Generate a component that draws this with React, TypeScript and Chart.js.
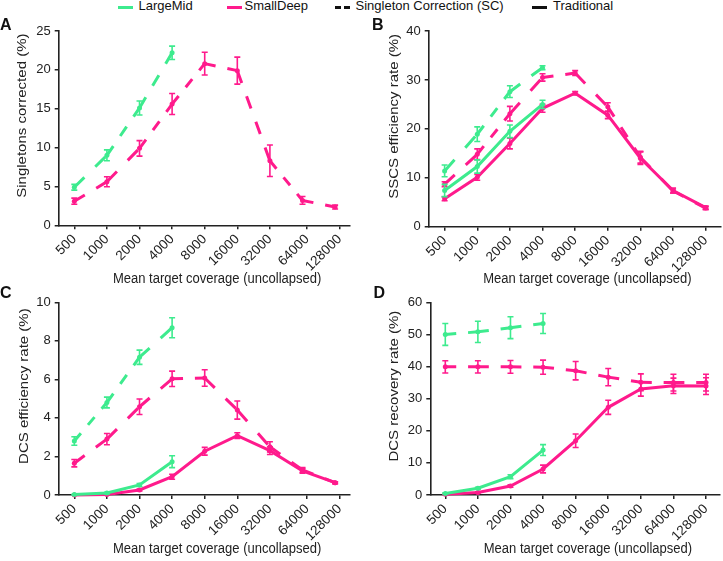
import React, { useEffect, useRef } from 'react';
import { Chart, registerables } from 'chart.js';

Chart.register(...registerables);

// ---------- data ----------
const coverageLabels = ['500', '1000', '2000', '4000', '8000', '16000', '32000', '64000', '128000'];

// Panel A: Singletons corrected (%) – Singleton Correction only
const aLargeMidSC = [4.9, 9.0, 15.1, 22.2];
const aLargeMidSCErr = [0.37, 0.7, 0.9, 0.86];
const aSmallDeepSC = [3.1, 5.6, 9.9, 15.6, 20.8, 19.9, 8.3, 3.2, 2.35];
const aSmallDeepSCErr = [0.4, 0.64, 1.0, 1.35, 1.46, 1.74, 2.03, 0.5, 0.25];

// Panel B: SSCS efficiency rate (%)
const bLargeMidSC = [11.4, 18.9, 27.6, 32.5];
const bLargeMidSCErr = [1.2, 1.5, 1.2, 0.4];
const bLargeMidTrad = [7.4, 12.3, 19.5, 25.0];
const bLargeMidTradErr = [1.25, 1.35, 1.3, 0.85];
const bSmallDeepSC = [8.7, 14.8, 23.1, 30.5, 31.4, 24.5, 14.2, 7.3, 3.8];
const bSmallDeepSCErr = [0.5, 1.1, 1.5, 0.75, 0.5, 0.85, 1.2, 0.4, 0.3];
const bSmallDeepTrad = [5.7, 10.1, 17.0, 24.2, 27.3, 22.8, 14.0, 7.4, 3.9];
const bSmallDeepTradErr = [0.4, 0.6, 1.1, 0.8, 0.3, 0.7, 1.3, 0.5, 0.3];

// Panel C: DCS efficiency rate (%)
const cLargeMidSC = [2.8, 4.8, 7.15, 8.68];
const cLargeMidSCErr = [0.22, 0.28, 0.37, 0.52];
const cLargeMidTrad = [0.02, 0.1, 0.52, 1.73];
const cLargeMidTradErr = [0.02, 0.04, 0.08, 0.31];
const cSmallDeepSC = [1.65, 2.9, 4.58, 6.03, 6.07, 4.41, 2.5, 1.3, 0.64];
const cSmallDeepSCErr = [0.19, 0.29, 0.4, 0.4, 0.43, 0.47, 0.26, 0.12, 0.05];
const cSmallDeepTrad = [0.0, 0.03, 0.26, 0.95, 2.27, 3.08, 2.3, 1.25, 0.64];
const cSmallDeepTradErr = [0.0, 0.02, 0.05, 0.13, 0.2, 0.15, 0.2, 0.12, 0.05];

// Panel D: DCS recovery rate (%)
const dLargeMidSC = [50.0, 50.8, 52.1, 53.4];
const dLargeMidSCErr = [3.4, 3.3, 3.4, 3.1];
const dLargeMidTrad = [0.5, 2.1, 5.7, 14.0];
const dLargeMidTradErr = [0.2, 0.3, 0.6, 1.7];
const dSmallDeepSC = [39.9, 39.9, 39.9, 39.8, 38.7, 36.7, 35.1, 35.0, 35.0];
const dSmallDeepSCErr = [1.9, 1.9, 2.0, 2.2, 2.85, 2.7, 2.6, 2.6, 2.6];
const dSmallDeepTrad = [0.2, 0.8, 2.8, 8.1, 16.9, 27.3, 33.0, 34.0, 33.9];
const dSmallDeepTradErr = [0.1, 0.2, 0.4, 1.2, 2.1, 2.2, 2.2, 2.4, 2.6];

// ---------- styling ----------
const GREEN = '#3DEB8E';
const PINK = '#FF1A8C';
const FONT = "'Liberation Sans', Arial, Helvetica, sans-serif";
const TEXT = '#222222';

type Series = { values: number[]; errors: number[]; color: string; dashed: boolean };

const errorBarPlugin = {
  id: 'errorBars',
  afterDatasetDraw(chart: any, args: any) {
    const ds = chart.data.datasets[args.index] as any;
    const errs: number[] | undefined = ds.errors;
    if (!errs) return;
    const yScale = chart.scales.y;
    const ctx = chart.ctx as CanvasRenderingContext2D;
    ctx.save();
    ctx.strokeStyle = ds.borderColor;
    ctx.lineWidth = 1.6;
    ctx.setLineDash([]);
    args.meta.data.forEach((pt: any, i: number) => {
      const e = errs[i];
      if (!e) return;
      const v = ds.data[i].y;
      const top = yScale.getPixelForValue(v + e);
      const bot = yScale.getPixelForValue(Math.max(0, v - e));
      const x = pt.x;
      ctx.beginPath();
      ctx.moveTo(x, top);
      ctx.lineTo(x, bot);
      ctx.moveTo(x - 3, top);
      ctx.lineTo(x + 3, top);
      ctx.moveTo(x - 3, bot);
      ctx.lineTo(x + 3, bot);
      ctx.stroke();
    });
    ctx.restore();
  },
};

const titlesPlugin = {
  id: 'panelTitles',
  afterDraw(chart: any, _args: any, opts: any) {
    const ctx = chart.ctx as CanvasRenderingContext2D;
    const a = chart.chartArea;
    ctx.save();
    ctx.fillStyle = TEXT;
    ctx.textAlign = 'center';
    ctx.textBaseline = 'middle';
    // x title
    ctx.save();
    ctx.font = `14px ${FONT}`;
    ctx.translate((a.left + a.right) / 2 + opts.xShift, a.bottom + opts.xGap);
    ctx.scale(0.93, 1);
    ctx.fillText(opts.xTitle, 0, 0);
    ctx.restore();
    // y title
    ctx.save();
    ctx.font = `15px ${FONT}`;
    ctx.translate(opts.yTitleX, (a.top + a.bottom) / 2 + opts.yShift);
    ctx.scale(0.87, 1);
    ctx.rotate(-Math.PI / 2);
    ctx.fillText(opts.yTitle, 0, 0);
    ctx.restore();
    ctx.restore();
  },
};

function dashFor(c: any): number[] {
  const d = 12;
  const g = 13;
  const L = Math.hypot(c.p1.x - c.p0.x, c.p1.y - c.p0.y);
  const n = Math.max(1, Math.round((L + g) / (d + g)));
  const k = (L + g) / (n * (d + g));
  return [d * k, g * k];
}

function makeDataset(s: Series) {
  return {
    data: s.values.map((v, i) => ({ x: i, y: v })),
    errors: s.errors,
    borderColor: s.color,
    backgroundColor: s.color,
    borderWidth: 3,
    pointRadius: 2.5,
    pointHoverRadius: 2.5,
    pointBorderWidth: 0,
    pointBackgroundColor: s.color,
    tension: 0,
    clip: false,
    segment: s.dashed
      ? {
          borderDash: (c: any) => dashFor(c),
          borderDashOffset: (c: any) => c.p0DataIndex * 0.001,
        }
      : undefined,
  };
}

type PanelCfg = {
  left: number;
  top: number;
  w: number;
  h: number;
  yWidth: number;
  xHeight: number;
  padTop: number;
  padRight: number;
  xMin: number;
  xMax: number;
  tickPos: number[];
  yMax: number;
  yStep: number;
  yTitle: string;
  yTitleX: number;
  xGap: number;
  series: Series[];
};

const XTITLE = 'Mean target coverage (uncollapsed)';
const evenTicks = [0, 1, 2, 3, 4, 5, 6, 7, 8];
const shiftedTicks = [0, 1, 2, 3, 4, 5, 6, 7.14, 8.14];

const panels: PanelCfg[] = [
  {
    left: 0, top: 10, w: 362, h: 281, yWidth: 58.7, xHeight: 65.7, padTop: 21, padRight: 12,
    xMin: -0.479, xMax: 8.457, tickPos: shiftedTicks, yMax: 25, yStep: 5,
    yTitle: 'Singletons corrected (%)', yTitleX: 22.5, xGap: 54,
    series: [
      { values: aLargeMidSC, errors: aLargeMidSCErr, color: GREEN, dashed: true },
      { values: aSmallDeepSC, errors: aSmallDeepSCErr, color: PINK, dashed: true },
    ],
  },
  {
    left: 362, top: 10, w: 361, h: 281, yWidth: 66.7, xHeight: 64.3, padTop: 21, padRight: 1,
    xMin: -0.488, xMax: 8.454, tickPos: evenTicks, yMax: 40, yStep: 10,
    yTitle: 'SSCS efficiency rate (%)', yTitleX: 32, xGap: 52.8,
    series: [
      { values: bLargeMidSC, errors: bLargeMidSCErr, color: GREEN, dashed: true },
      { values: bLargeMidTrad, errors: bLargeMidTradErr, color: GREEN, dashed: false },
      { values: bSmallDeepSC, errors: bSmallDeepSCErr, color: PINK, dashed: true },
      { values: bSmallDeepTrad, errors: bSmallDeepTradErr, color: PINK, dashed: false },
    ],
  },
  {
    left: 0, top: 280, w: 362, h: 281, yWidth: 58.7, xHeight: 66, padTop: 22.3, padRight: 12,
    xMin: -0.479, xMax: 8.457, tickPos: shiftedTicks, yMax: 10, yStep: 2,
    yTitle: 'DCS efficiency rate (%)', yTitleX: 24, xGap: 54,
    series: [
      { values: cLargeMidSC, errors: cLargeMidSCErr, color: GREEN, dashed: true },
      { values: cLargeMidTrad, errors: cLargeMidTradErr, color: GREEN, dashed: false },
      { values: cSmallDeepSC, errors: cSmallDeepSCErr, color: PINK, dashed: true },
      { values: cSmallDeepTrad, errors: cSmallDeepTradErr, color: PINK, dashed: false },
    ],
  },
  {
    left: 362, top: 280, w: 361, h: 281, yWidth: 68.3, xHeight: 66, padTop: 22.3, padRight: 3,
    xMin: -0.46, xMax: 8.429, tickPos: evenTicks, yMax: 60, yStep: 10,
    yTitle: 'DCS recovery rate (%)', yTitleX: 32, xGap: 54,
    series: [
      { values: dLargeMidSC, errors: dLargeMidSCErr, color: GREEN, dashed: true },
      { values: dLargeMidTrad, errors: dLargeMidTradErr, color: GREEN, dashed: false },
      { values: dSmallDeepSC, errors: dSmallDeepSCErr, color: PINK, dashed: true },
      { values: dSmallDeepTrad, errors: dSmallDeepTradErr, color: PINK, dashed: false },
    ],
  },
];

function Panel({ cfg }: { cfg: PanelCfg }) {
  const ref = useRef<HTMLCanvasElement>(null);
  useEffect(() => {
    const canvas = ref.current;
    if (!canvas) return;
    const tickFont = { family: FONT, size: 13 };
    const chart = new Chart(canvas, {
      type: 'line',
      data: { datasets: cfg.series.map(makeDataset) as any },
      plugins: [errorBarPlugin, titlesPlugin],
      options: {
        responsive: false,
        animation: false,
        devicePixelRatio: 1,
        events: [],
        layout: { padding: { top: cfg.padTop, right: cfg.padRight, left: 0, bottom: 0 } },
        plugins: {
          legend: { display: false },
          tooltip: { enabled: false },
          panelTitles: {
            xTitle: XTITLE,
            yTitle: cfg.yTitle,
            xShift: 12.8,
            yShift: -12.5,
            xGap: cfg.xGap,
            yTitleX: cfg.yTitleX,
          },
        } as any,
        scales: {
          x: {
            type: 'linear',
            min: cfg.xMin,
            max: cfg.xMax,
            afterBuildTicks: (s: any) => {
              s.ticks = cfg.tickPos.map((v) => ({ value: v }));
            },
            afterFit: (s: any) => {
              s.height = cfg.xHeight;
            },
            ticks: {
              autoSkip: false,
              minRotation: 45,
              maxRotation: 45,
              padding: 2,
              color: TEXT,
              font: { family: FONT, size: 13.5 },
              callback: (_v: any, i: number) => coverageLabels[i],
            },
            grid: {
              drawOnChartArea: false,
              drawTicks: true,
              tickLength: 4,
              color: TEXT,
              lineWidth: 1.5,
            },
            border: { display: true, color: TEXT, width: 1.6 },
          },
          y: {
            type: 'linear',
            min: 0,
            max: cfg.yMax,
            afterFit: (s: any) => {
              s.width = cfg.yWidth;
            },
            ticks: {
              stepSize: cfg.yStep,
              padding: 4,
              color: TEXT,
              font: tickFont,
            },
            grid: {
              drawOnChartArea: false,
              drawTicks: true,
              tickLength: 4,
              color: TEXT,
              lineWidth: 1.5,
            },
            border: { display: true, color: TEXT, width: 1.6 },
          },
        },
      } as any,
    });
    return () => chart.destroy();
  }, [cfg]);
  return (
    <canvas
      ref={ref}
      width={cfg.w}
      height={cfg.h}
      style={{ position: 'absolute', left: cfg.left, top: cfg.top, width: cfg.w, height: cfg.h }}
    />
  );
}

const legendText: React.CSSProperties = {
  position: 'absolute',
  top: -1,
  fontFamily: FONT,
  fontSize: 13,
  lineHeight: '13px',
  color: '#111',
  whiteSpace: 'nowrap',
};

const letterStyle: React.CSSProperties = {
  position: 'absolute',
  fontFamily: FONT,
  fontSize: 16,
  fontWeight: 'bold',
  lineHeight: '16px',
  color: '#111',
};

function swatch(left: number, width: number, color: string) {
  return (
    <div
      style={{ position: 'absolute', left, top: 5.7, width, height: 3, background: color }}
    />
  );
}

export default function App() {
  return (
    <div
      style={{
        position: 'absolute',
        left: 0,
        top: 0,
        width: 723,
        height: 561,
        background: '#fff',
        overflow: 'hidden',
      }}
    >
      {swatch(118, 15, GREEN)}
      <div style={{ ...legendText, left: 138.5 }}>LargeMid</div>
      {swatch(227, 15, PINK)}
      <div style={{ ...legendText, left: 244.5 }}>SmallDeep</div>
      {swatch(335, 6, '#111')}
      {swatch(344, 6, '#111')}
      <div style={{ ...legendText, left: 355.5 }}>Singleton Correction (SC)</div>
      {swatch(532, 15, '#111')}
      <div style={{ ...legendText, left: 553 }}>Traditional</div>

      {panels.map((p, i) => (
        <Panel key={i} cfg={p} />
      ))}

      <div style={{ ...letterStyle, left: 0, top: 16.5 }}>A</div>
      <div style={{ ...letterStyle, left: 372, top: 16.5 }}>B</div>
      <div style={{ ...letterStyle, left: 0, top: 285 }}>C</div>
      <div style={{ ...letterStyle, left: 373.5, top: 285 }}>D</div>
    </div>
  );
}
